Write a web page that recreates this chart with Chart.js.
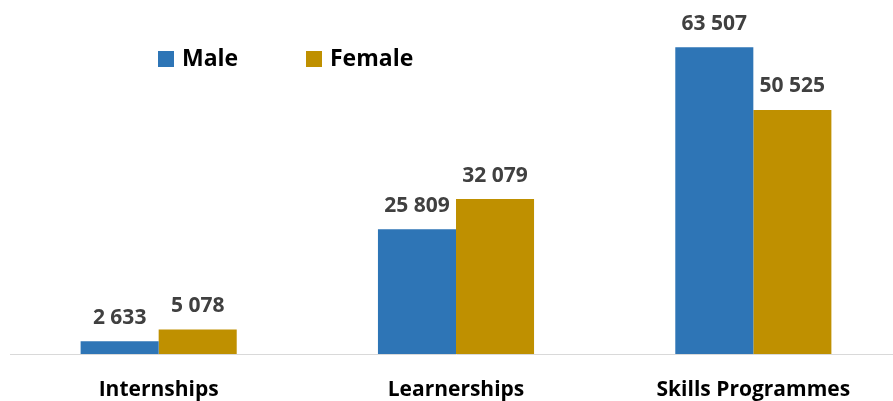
<!DOCTYPE html>
<html>
<head>
<meta charset="utf-8">
<script src="https://cdn.jsdelivr.net/npm/chart.js@4.4.0/dist/chart.umd.min.js"></script>
<style>
  html, body { margin: 0; padding: 0; background: #fff; overflow: hidden; }
  #wrap { position: relative; width: 902px; height: 401px; }
</style>
</head>
<body>
<div id="wrap"><canvas id="grafico"></canvas></div>
<script>
const categorias = ['Internships', 'Learnerships', 'Skills Programmes'];
const series = ['Male', 'Female'];
const valoresMale = [2633, 25809, 63507];
const valoresFemale = [5078, 32079, 50525];
const colores = ['#2e75b6', '#bf9000'];

const fuente = "'Open Sans', 'Liberation Sans', sans-serif";

function formatear(v) {
  return String(v).replace(/\B(?=(\d{3})+(?!\d))/g, ' ');
}

// etiquetas encima de cada barra
const etiquetas = {
  id: 'etiquetas',
  afterDatasetsDraw(chart) {
    const ctx = chart.ctx;
    ctx.save();
    ctx.font = 'bold 21px ' + fuente;
    ctx.fillStyle = '#404040';
    ctx.textAlign = 'center';
    ctx.textBaseline = 'bottom';
    chart.data.datasets.forEach((ds, i) => {
      chart.getDatasetMeta(i).data.forEach((bar, j) => {
        ctx.fillText(formatear(ds.data[j]), bar.x, bar.y - 13);
      });
    });
    ctx.restore();
  }
};

// leyenda dibujada a mano dentro del área
const leyenda = {
  id: 'leyenda',
  afterDraw(chart) {
    const ctx = chart.ctx;
    const pos = [158, 306];
    ctx.save();
    ctx.font = 'bold 23px ' + fuente;
    ctx.textBaseline = 'middle';
    chart.data.datasets.forEach((ds, i) => {
      ctx.fillStyle = ds.backgroundColor;
      ctx.fillRect(pos[i], 51, 16, 16);
      ctx.fillStyle = '#000';
      ctx.fillText(ds.label, pos[i] + 24, 59);
    });
    ctx.restore();
  }
};

new Chart(document.getElementById('grafico').getContext('2d'), {
  type: 'bar',
  data: {
    labels: categorias,
    datasets: [
      { label: series[0], data: valoresMale, backgroundColor: colores[0] },
      { label: series[1], data: valoresFemale, backgroundColor: colores[1] }
    ]
  },
  options: {
    responsive: true,
    maintainAspectRatio: false,
    animation: false,
    layout: { padding: { left: 10, right: 0, top: 0, bottom: 0 } },
    datasets: {
      bar: { categoryPercentage: 0.525, barPercentage: 1.0 }
    },
    plugins: {
      legend: { display: false },
      tooltip: { enabled: false }
    },
    scales: {
      x: {
        grid: { display: false },
        border: { display: true, color: '#d9d9d9', width: 1 },
        ticks: {
          color: '#000',
          padding: 15,
          font: { family: fuente, size: 21, weight: 'bold' }
        },
        afterFit: scale => { scale.height = 47; }
      },
      y: {
        display: false,
        min: 0,
        max: 73300
      }
    }
  },
  plugins: [etiquetas, leyenda]
});
</script>
</body>
</html>
